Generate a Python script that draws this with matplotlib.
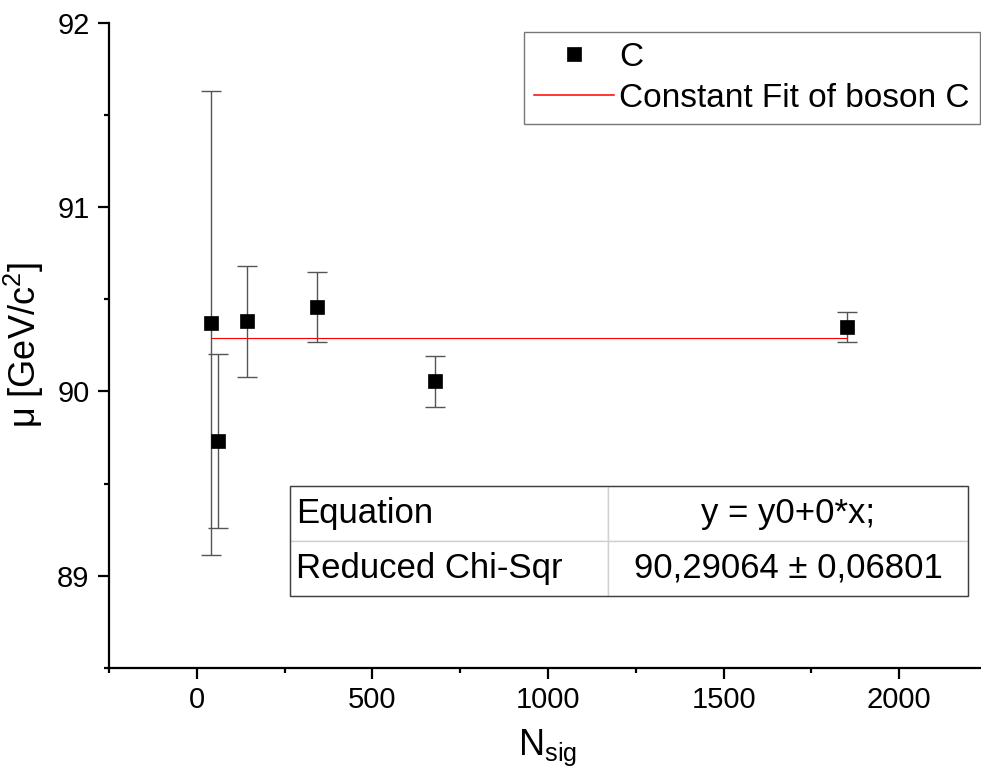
import numpy as np
import matplotlib
matplotlib.use("Agg")
import matplotlib.pyplot as plt
from matplotlib.patches import Rectangle
from matplotlib.ticker import MultipleLocator

plt.rcParams["font.family"] = ["Liberation Sans", "DejaVu Sans"]
plt.rcParams["mathtext.fontset"] = "custom"
plt.rcParams["mathtext.rm"] = "Liberation Sans"
plt.rcParams["mathtext.it"] = "Liberation Sans"
plt.rcParams["mathtext.default"] = "regular"

# data
n_sig = [40, 60, 143, 343, 679, 1850]
mu = [90.37, 89.73, 90.38, 90.457, 90.054, 90.35]
mu_err = [1.26, 0.47, 0.30, 0.19, 0.14, 0.08]
fit_y0 = 90.29064
fit_label = "Constant Fit of boson C"
series_label = "C"
table_rows = [["Equation", "y = y0+0*x;"],
              ["Reduced Chi-Sqr", "90,29064 \u00b1 0,06801"]]

fig = plt.figure(figsize=(9.81, 7.8), dpi=100)
ax = fig.add_axes([109 / 981, 1 - 668 / 780, 878 / 981, (668 - 22.5) / 780])

ax.errorbar(n_sig, mu, yerr=mu_err, fmt="none", ecolor="#555555",
            elinewidth=1.0, capsize=7.5, capthick=1.0, zorder=2)
ax.plot(n_sig, mu, "s", color="black", ms=9.4, mec="black", mew=0.5,
        label=series_label, zorder=3)
ax.plot([n_sig[0], n_sig[-1]], [fit_y0, fit_y0], color="red", lw=0.8,
        label=fit_label, zorder=1)

ax.set_xlim(-250, 2250)
ax.set_ylim(88.5, 92)
ax.xaxis.set_major_locator(MultipleLocator(500))
ax.xaxis.set_minor_locator(MultipleLocator(250))
ax.yaxis.set_major_locator(MultipleLocator(1))
ax.yaxis.set_minor_locator(MultipleLocator(0.5))

for side in ["top", "right"]:
    ax.spines[side].set_visible(False)
for side in ["left", "bottom"]:
    ax.spines[side].set_linewidth(1.6)

ax.tick_params(which="major", direction="out", length=8, width=1.6,
               labelsize=21, pad=5)
ax.tick_params(which="minor", direction="out", length=3.5, width=1.6)
ax.tick_params(axis="y", which="major", pad=6)

ax.set_xlabel("N$_{sig}$", fontsize=26, labelpad=10)
ax.set_ylabel("\u03bc [GeV/c$^2$]", fontsize=26, labelpad=8)

leg = ax.legend(loc="upper right", bbox_to_anchor=(0.992, 0.986),
                borderaxespad=0, fontsize=24, frameon=True, fancybox=False,
                handlelength=2.4, handletextpad=0.15, labelspacing=0.3,
                borderpad=0.3)
leg.get_frame().set_edgecolor("#555555")
leg.get_frame().set_linewidth(1.0)
for line in leg.get_lines():
    if line.get_label() == fit_label:
        line.set_linewidth(1.1)

# fit results table
tx0 = (290 - 109) / 878
tx1 = (968 - 109) / 878
ty0 = (668 - 596) / 645.5
ty1 = (668 - 486) / 645.5
tab = ax.table(cellText=table_rows, cellLoc="center",
               colWidths=[318 / 678, 360 / 678],
               bbox=[tx0, ty0, tx1 - tx0, ty1 - ty0])
tab.auto_set_font_size(False)
tab.set_fontsize(25)
for (r, c), cell in tab.get_celld().items():
    cell.set_edgecolor("#d0d0d0")
    cell.set_linewidth(1.0)
    if c == 0:
        cell._loc = "left"
        cell.get_text().set_horizontalalignment("left")
        cell.PAD = 0.02
ax.add_patch(Rectangle((tx0, ty0), tx1 - tx0, ty1 - ty0, transform=ax.transAxes,
                       fill=False, edgecolor="#404040", lw=1.0, zorder=5))

fig.savefig("out.png", dpi=100)
